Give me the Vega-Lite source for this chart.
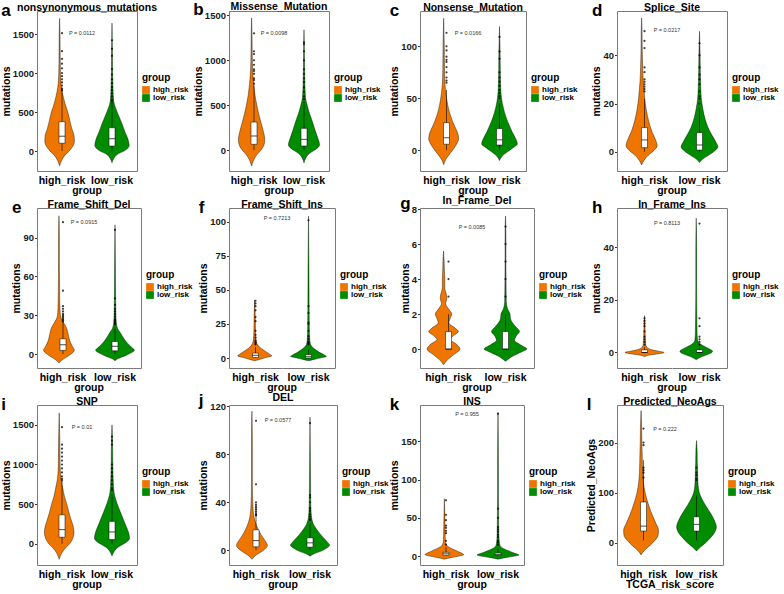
{
"$schema": "https://vega.github.io/schema/vega-lite/v6.json",
"background": "white",
"padding": {"left": 1, "top": 0, "right": 0, "bottom": 0},
"config": {
 "font": "Liberation Sans",
 "view": {"stroke": null},
 "axis": {"grid": false, "labelFontSize": 9.5, "labelFontWeight": "bold", "labelColor": "#1a1a1a", "titleFontSize": 10.5, "titleFontWeight": "bold", "titleColor": "black", "tickColor": "#333", "tickSize": 2.5, "domainColor": "#7a7a7a", "domainWidth": 1, "labelPadding": 1, "titlePadding": 1},
 "header": {"labelFontSize": 10.5, "labelFontWeight": "bold", "labelColor": "black", "titleFontSize": 10.5, "titleFontWeight": "bold", "titleColor": "black", "labelOrient": "bottom", "titleOrient": "bottom", "labelPadding": 5, "titlePadding": -11},
 "legend": {"titleFontSize": 10, "titleFontWeight": "bold", "titleColor": "black", "labelFontSize": 8, "labelFontWeight": "bold", "labelColor": "black", "symbolType": "square", "symbolSize": 60, "symbolStrokeWidth": 0, "rowPadding": 0, "titlePadding": 3, "labelOffset": 3},
 "title": {"color": "black", "fontWeight": "bold"}
},
"data": {"values": [
{"p":"a","g":"high_risk","k":"v","v":-190,"d":0},{"p":"a","g":"high_risk","k":"v","v":-120,"d":5},{"p":"a","g":"high_risk","k":"v","v":-50,"d":14},{"p":"a","g":"high_risk","k":"v","v":0,"d":24},{"p":"a","g":"high_risk","k":"v","v":60,"d":33},{"p":"a","g":"high_risk","k":"v","v":130,"d":37},{"p":"a","g":"high_risk","k":"v","v":200,"d":36},{"p":"a","g":"high_risk","k":"v","v":280,"d":31},{"p":"a","g":"high_risk","k":"v","v":380,"d":26},{"p":"a","g":"high_risk","k":"v","v":490,"d":21},{"p":"a","g":"high_risk","k":"v","v":600,"d":14},{"p":"a","g":"high_risk","k":"v","v":700,"d":9},{"p":"a","g":"high_risk","k":"v","v":800,"d":5},{"p":"a","g":"high_risk","k":"v","v":900,"d":3},{"p":"a","g":"high_risk","k":"v","v":1000,"d":2},{"p":"a","g":"high_risk","k":"v","v":1200,"d":1.5},{"p":"a","g":"high_risk","k":"v","v":1500,"d":1},{"p":"a","g":"high_risk","k":"v","v":1700,"d":0},
{"p":"a","g":"low_risk","k":"v","v":-150,"d":0},{"p":"a","g":"low_risk","k":"v","v":-100,"d":4},{"p":"a","g":"low_risk","k":"v","v":-40,"d":14},{"p":"a","g":"low_risk","k":"v","v":0,"d":30},{"p":"a","g":"low_risk","k":"v","v":70,"d":43},{"p":"a","g":"low_risk","k":"v","v":150,"d":40},{"p":"a","g":"low_risk","k":"v","v":250,"d":32},{"p":"a","g":"low_risk","k":"v","v":350,"d":25},{"p":"a","g":"low_risk","k":"v","v":450,"d":17},{"p":"a","g":"low_risk","k":"v","v":550,"d":9},{"p":"a","g":"low_risk","k":"v","v":650,"d":4},{"p":"a","g":"low_risk","k":"v","v":800,"d":2.5},{"p":"a","g":"low_risk","k":"v","v":1000,"d":1.5},{"p":"a","g":"low_risk","k":"v","v":1300,"d":1},{"p":"a","g":"low_risk","k":"v","v":1640,"d":0},
{"p":"b","g":"high_risk","k":"v","v":-175,"d":0},{"p":"b","g":"high_risk","k":"v","v":-110,"d":5},{"p":"b","g":"high_risk","k":"v","v":-50,"d":13},{"p":"b","g":"high_risk","k":"v","v":0,"d":23},{"p":"b","g":"high_risk","k":"v","v":60,"d":31},{"p":"b","g":"high_risk","k":"v","v":120,"d":33},{"p":"b","g":"high_risk","k":"v","v":200,"d":30},{"p":"b","g":"high_risk","k":"v","v":300,"d":24},{"p":"b","g":"high_risk","k":"v","v":400,"d":18},{"p":"b","g":"high_risk","k":"v","v":500,"d":13},{"p":"b","g":"high_risk","k":"v","v":600,"d":9},{"p":"b","g":"high_risk","k":"v","v":700,"d":6},{"p":"b","g":"high_risk","k":"v","v":800,"d":4},{"p":"b","g":"high_risk","k":"v","v":900,"d":2.5},{"p":"b","g":"high_risk","k":"v","v":1100,"d":1.5},{"p":"b","g":"high_risk","k":"v","v":1300,"d":1},{"p":"b","g":"high_risk","k":"v","v":1470,"d":0},
{"p":"b","g":"low_risk","k":"v","v":-140,"d":0},{"p":"b","g":"low_risk","k":"v","v":-90,"d":4},{"p":"b","g":"low_risk","k":"v","v":-30,"d":15},{"p":"b","g":"low_risk","k":"v","v":0,"d":26},{"p":"b","g":"low_risk","k":"v","v":60,"d":39},{"p":"b","g":"low_risk","k":"v","v":130,"d":35},{"p":"b","g":"low_risk","k":"v","v":220,"d":28},{"p":"b","g":"low_risk","k":"v","v":320,"d":21},{"p":"b","g":"low_risk","k":"v","v":420,"d":13},{"p":"b","g":"low_risk","k":"v","v":500,"d":8},{"p":"b","g":"low_risk","k":"v","v":580,"d":4},{"p":"b","g":"low_risk","k":"v","v":700,"d":2.5},{"p":"b","g":"low_risk","k":"v","v":900,"d":1.5},{"p":"b","g":"low_risk","k":"v","v":1100,"d":1},{"p":"b","g":"low_risk","k":"v","v":1340,"d":0},
{"p":"c","g":"high_risk","k":"v","v":-14,"d":0},{"p":"c","g":"high_risk","k":"v","v":-9,"d":5},{"p":"c","g":"high_risk","k":"v","v":-4,"d":14},{"p":"c","g":"high_risk","k":"v","v":0,"d":22},{"p":"c","g":"high_risk","k":"v","v":6,"d":32},{"p":"c","g":"high_risk","k":"v","v":11,"d":37},{"p":"c","g":"high_risk","k":"v","v":17,"d":34},{"p":"c","g":"high_risk","k":"v","v":24,"d":26},{"p":"c","g":"high_risk","k":"v","v":32,"d":18},{"p":"c","g":"high_risk","k":"v","v":40,"d":12},{"p":"c","g":"high_risk","k":"v","v":48,"d":8},{"p":"c","g":"high_risk","k":"v","v":56,"d":5},{"p":"c","g":"high_risk","k":"v","v":65,"d":3},{"p":"c","g":"high_risk","k":"v","v":80,"d":2},{"p":"c","g":"high_risk","k":"v","v":100,"d":1.5},{"p":"c","g":"high_risk","k":"v","v":127,"d":0},
{"p":"c","g":"low_risk","k":"v","v":-10,"d":0},{"p":"c","g":"low_risk","k":"v","v":-6,"d":6},{"p":"c","g":"low_risk","k":"v","v":-2,"d":18},{"p":"c","g":"low_risk","k":"v","v":2,"d":32},{"p":"c","g":"low_risk","k":"v","v":6,"d":44},{"p":"c","g":"low_risk","k":"v","v":11,"d":40},{"p":"c","g":"low_risk","k":"v","v":17,"d":32},{"p":"c","g":"low_risk","k":"v","v":24,"d":24},{"p":"c","g":"low_risk","k":"v","v":32,"d":16},{"p":"c","g":"low_risk","k":"v","v":40,"d":10},{"p":"c","g":"low_risk","k":"v","v":50,"d":5},{"p":"c","g":"low_risk","k":"v","v":60,"d":3},{"p":"c","g":"low_risk","k":"v","v":75,"d":2},{"p":"c","g":"low_risk","k":"v","v":95,"d":1.5},{"p":"c","g":"low_risk","k":"v","v":119,"d":0},
{"p":"d","g":"high_risk","k":"v","v":-5.5,"d":0},{"p":"d","g":"high_risk","k":"v","v":-3.5,"d":6},{"p":"d","g":"high_risk","k":"v","v":-1.5,"d":16},{"p":"d","g":"high_risk","k":"v","v":0.5,"d":30},{"p":"d","g":"high_risk","k":"v","v":2.5,"d":38},{"p":"d","g":"high_risk","k":"v","v":5,"d":34},{"p":"d","g":"high_risk","k":"v","v":8,"d":26},{"p":"d","g":"high_risk","k":"v","v":11,"d":20},{"p":"d","g":"high_risk","k":"v","v":15,"d":14},{"p":"d","g":"high_risk","k":"v","v":20,"d":9},{"p":"d","g":"high_risk","k":"v","v":25,"d":6},{"p":"d","g":"high_risk","k":"v","v":29,"d":4},{"p":"d","g":"high_risk","k":"v","v":35,"d":2.5},{"p":"d","g":"high_risk","k":"v","v":42,"d":1.5},{"p":"d","g":"high_risk","k":"v","v":50,"d":1},{"p":"d","g":"high_risk","k":"v","v":55.5,"d":0},
{"p":"d","g":"low_risk","k":"v","v":-4.5,"d":0},{"p":"d","g":"low_risk","k":"v","v":-3,"d":8},{"p":"d","g":"low_risk","k":"v","v":-1.5,"d":22},{"p":"d","g":"low_risk","k":"v","v":0.5,"d":38},{"p":"d","g":"low_risk","k":"v","v":2,"d":45},{"p":"d","g":"low_risk","k":"v","v":4,"d":40},{"p":"d","g":"low_risk","k":"v","v":7,"d":30},{"p":"d","g":"low_risk","k":"v","v":10,"d":21},{"p":"d","g":"low_risk","k":"v","v":14,"d":13},{"p":"d","g":"low_risk","k":"v","v":18,"d":8},{"p":"d","g":"low_risk","k":"v","v":22,"d":4.5},{"p":"d","g":"low_risk","k":"v","v":27,"d":3},{"p":"d","g":"low_risk","k":"v","v":33,"d":2},{"p":"d","g":"low_risk","k":"v","v":40,"d":1.5},{"p":"d","g":"low_risk","k":"v","v":50,"d":0},
{"p":"e","g":"high_risk","k":"v","v":-7,"d":0},{"p":"e","g":"high_risk","k":"v","v":-5,"d":6},{"p":"e","g":"high_risk","k":"v","v":-2.5,"d":18},{"p":"e","g":"high_risk","k":"v","v":0,"d":30},{"p":"e","g":"high_risk","k":"v","v":3,"d":38},{"p":"e","g":"high_risk","k":"v","v":6,"d":33},{"p":"e","g":"high_risk","k":"v","v":10,"d":27},{"p":"e","g":"high_risk","k":"v","v":15,"d":23},{"p":"e","g":"high_risk","k":"v","v":20,"d":19},{"p":"e","g":"high_risk","k":"v","v":24,"d":12},{"p":"e","g":"high_risk","k":"v","v":28,"d":5},{"p":"e","g":"high_risk","k":"v","v":32,"d":3},{"p":"e","g":"high_risk","k":"v","v":40,"d":2},{"p":"e","g":"high_risk","k":"v","v":50,"d":1.5},{"p":"e","g":"high_risk","k":"v","v":70,"d":1},{"p":"e","g":"high_risk","k":"v","v":90,"d":1},{"p":"e","g":"high_risk","k":"v","v":107,"d":0},
{"p":"e","g":"low_risk","k":"v","v":-5.2,"d":0},{"p":"e","g":"low_risk","k":"v","v":-3.5,"d":8},{"p":"e","g":"low_risk","k":"v","v":-1.5,"d":24},{"p":"e","g":"low_risk","k":"v","v":1,"d":40},{"p":"e","g":"low_risk","k":"v","v":3,"d":48},{"p":"e","g":"low_risk","k":"v","v":5,"d":42},{"p":"e","g":"low_risk","k":"v","v":8,"d":32},{"p":"e","g":"low_risk","k":"v","v":11,"d":24},{"p":"e","g":"low_risk","k":"v","v":14,"d":18},{"p":"e","g":"low_risk","k":"v","v":17,"d":12},{"p":"e","g":"low_risk","k":"v","v":20,"d":6},{"p":"e","g":"low_risk","k":"v","v":25,"d":3},{"p":"e","g":"low_risk","k":"v","v":32,"d":2},{"p":"e","g":"low_risk","k":"v","v":45,"d":1.5},{"p":"e","g":"low_risk","k":"v","v":70,"d":1},{"p":"e","g":"low_risk","k":"v","v":100,"d":0},
{"p":"f","g":"high_risk","k":"v","v":-2,"d":0},{"p":"f","g":"high_risk","k":"v","v":-1,"d":12},{"p":"f","g":"high_risk","k":"v","v":0.5,"d":30},{"p":"f","g":"high_risk","k":"v","v":1.5,"d":42},{"p":"f","g":"high_risk","k":"v","v":3,"d":36},{"p":"f","g":"high_risk","k":"v","v":5,"d":26},{"p":"f","g":"high_risk","k":"v","v":7,"d":16},{"p":"f","g":"high_risk","k":"v","v":9,"d":9},{"p":"f","g":"high_risk","k":"v","v":11,"d":5},{"p":"f","g":"high_risk","k":"v","v":14,"d":3},{"p":"f","g":"high_risk","k":"v","v":20,"d":2},{"p":"f","g":"high_risk","k":"v","v":30,"d":1.5},{"p":"f","g":"high_risk","k":"v","v":42.5,"d":0},
{"p":"f","g":"low_risk","k":"v","v":-2,"d":0},{"p":"f","g":"low_risk","k":"v","v":-1,"d":14},{"p":"f","g":"low_risk","k":"v","v":0.5,"d":36},{"p":"f","g":"low_risk","k":"v","v":1.2,"d":44},{"p":"f","g":"low_risk","k":"v","v":2.5,"d":38},{"p":"f","g":"low_risk","k":"v","v":4,"d":28},{"p":"f","g":"low_risk","k":"v","v":6,"d":18},{"p":"f","g":"low_risk","k":"v","v":8,"d":10},{"p":"f","g":"low_risk","k":"v","v":10,"d":5},{"p":"f","g":"low_risk","k":"v","v":14,"d":3},{"p":"f","g":"low_risk","k":"v","v":22,"d":2},{"p":"f","g":"low_risk","k":"v","v":40,"d":1.5},{"p":"f","g":"low_risk","k":"v","v":70,"d":1},{"p":"f","g":"low_risk","k":"v","v":104,"d":0},
{"p":"g","g":"high_risk","k":"v","v":-0.9,"d":0},{"p":"g","g":"high_risk","k":"v","v":-0.6,"d":10},{"p":"g","g":"high_risk","k":"v","v":-0.3,"d":26},{"p":"g","g":"high_risk","k":"v","v":0,"d":40},{"p":"g","g":"high_risk","k":"v","v":0.3,"d":30},{"p":"g","g":"high_risk","k":"v","v":0.55,"d":16},{"p":"g","g":"high_risk","k":"v","v":0.8,"d":26},{"p":"g","g":"high_risk","k":"v","v":1,"d":36},{"p":"g","g":"high_risk","k":"v","v":1.2,"d":28},{"p":"g","g":"high_risk","k":"v","v":1.5,"d":13},{"p":"g","g":"high_risk","k":"v","v":1.8,"d":17},{"p":"g","g":"high_risk","k":"v","v":2,"d":20},{"p":"g","g":"high_risk","k":"v","v":2.3,"d":12},{"p":"g","g":"high_risk","k":"v","v":2.6,"d":5},{"p":"g","g":"high_risk","k":"v","v":2.9,"d":8},{"p":"g","g":"high_risk","k":"v","v":3.1,"d":7},{"p":"g","g":"high_risk","k":"v","v":3.5,"d":3},{"p":"g","g":"high_risk","k":"v","v":4,"d":3},{"p":"g","g":"high_risk","k":"v","v":4.5,"d":2},{"p":"g","g":"high_risk","k":"v","v":5,"d":1.5},{"p":"g","g":"high_risk","k":"v","v":5.6,"d":0},
{"p":"g","g":"low_risk","k":"v","v":-0.7,"d":0},{"p":"g","g":"low_risk","k":"v","v":-0.4,"d":18},{"p":"g","g":"low_risk","k":"v","v":-0.15,"d":40},{"p":"g","g":"low_risk","k":"v","v":0,"d":52},{"p":"g","g":"low_risk","k":"v","v":0.25,"d":36},{"p":"g","g":"low_risk","k":"v","v":0.5,"d":22},{"p":"g","g":"low_risk","k":"v","v":0.75,"d":26},{"p":"g","g":"low_risk","k":"v","v":1,"d":34},{"p":"g","g":"low_risk","k":"v","v":1.25,"d":26},{"p":"g","g":"low_risk","k":"v","v":1.5,"d":17},{"p":"g","g":"low_risk","k":"v","v":1.75,"d":12},{"p":"g","g":"low_risk","k":"v","v":2,"d":11},{"p":"g","g":"low_risk","k":"v","v":2.3,"d":5},{"p":"g","g":"low_risk","k":"v","v":2.7,"d":2},{"p":"g","g":"low_risk","k":"v","v":3.5,"d":1.5},{"p":"g","g":"low_risk","k":"v","v":5,"d":1},{"p":"g","g":"low_risk","k":"v","v":6.5,"d":1},{"p":"g","g":"low_risk","k":"v","v":7.6,"d":0},
{"p":"h","g":"high_risk","k":"v","v":-1.6,"d":0},{"p":"h","g":"high_risk","k":"v","v":-1,"d":12},{"p":"h","g":"high_risk","k":"v","v":-0.5,"d":34},{"p":"h","g":"high_risk","k":"v","v":0,"d":48},{"p":"h","g":"high_risk","k":"v","v":0.5,"d":34},{"p":"h","g":"high_risk","k":"v","v":1,"d":18},{"p":"h","g":"high_risk","k":"v","v":1.5,"d":10},{"p":"h","g":"high_risk","k":"v","v":2,"d":6},{"p":"h","g":"high_risk","k":"v","v":3,"d":3},{"p":"h","g":"high_risk","k":"v","v":5,"d":2},{"p":"h","g":"high_risk","k":"v","v":8,"d":1.5},{"p":"h","g":"high_risk","k":"v","v":11,"d":1},{"p":"h","g":"high_risk","k":"v","v":14,"d":0},
{"p":"h","g":"low_risk","k":"v","v":-2.8,"d":0},{"p":"h","g":"low_risk","k":"v","v":-2,"d":8},{"p":"h","g":"low_risk","k":"v","v":-1,"d":24},{"p":"h","g":"low_risk","k":"v","v":0,"d":38},{"p":"h","g":"low_risk","k":"v","v":0.5,"d":40},{"p":"h","g":"low_risk","k":"v","v":1,"d":36},{"p":"h","g":"low_risk","k":"v","v":2,"d":24},{"p":"h","g":"low_risk","k":"v","v":3,"d":12},{"p":"h","g":"low_risk","k":"v","v":4,"d":5},{"p":"h","g":"low_risk","k":"v","v":5,"d":3},{"p":"h","g":"low_risk","k":"v","v":8,"d":2},{"p":"h","g":"low_risk","k":"v","v":14,"d":1.5},{"p":"h","g":"low_risk","k":"v","v":25,"d":1},{"p":"h","g":"low_risk","k":"v","v":40,"d":1},{"p":"h","g":"low_risk","k":"v","v":51,"d":0},
{"p":"i","g":"high_risk","k":"v","v":-195,"d":0},{"p":"i","g":"high_risk","k":"v","v":-120,"d":6},{"p":"i","g":"high_risk","k":"v","v":-50,"d":16},{"p":"i","g":"high_risk","k":"v","v":0,"d":26},{"p":"i","g":"high_risk","k":"v","v":70,"d":34},{"p":"i","g":"high_risk","k":"v","v":140,"d":37},{"p":"i","g":"high_risk","k":"v","v":220,"d":35},{"p":"i","g":"high_risk","k":"v","v":300,"d":30},{"p":"i","g":"high_risk","k":"v","v":400,"d":24},{"p":"i","g":"high_risk","k":"v","v":500,"d":19},{"p":"i","g":"high_risk","k":"v","v":600,"d":13},{"p":"i","g":"high_risk","k":"v","v":700,"d":9},{"p":"i","g":"high_risk","k":"v","v":800,"d":5},{"p":"i","g":"high_risk","k":"v","v":900,"d":3},{"p":"i","g":"high_risk","k":"v","v":1050,"d":2},{"p":"i","g":"high_risk","k":"v","v":1300,"d":1.5},{"p":"i","g":"high_risk","k":"v","v":1650,"d":0},
{"p":"i","g":"low_risk","k":"v","v":-155,"d":0},{"p":"i","g":"low_risk","k":"v","v":-100,"d":5},{"p":"i","g":"low_risk","k":"v","v":-40,"d":16},{"p":"i","g":"low_risk","k":"v","v":0,"d":30},{"p":"i","g":"low_risk","k":"v","v":70,"d":44},{"p":"i","g":"low_risk","k":"v","v":150,"d":41},{"p":"i","g":"low_risk","k":"v","v":250,"d":33},{"p":"i","g":"low_risk","k":"v","v":350,"d":25},{"p":"i","g":"low_risk","k":"v","v":450,"d":17},{"p":"i","g":"low_risk","k":"v","v":550,"d":10},{"p":"i","g":"low_risk","k":"v","v":650,"d":5},{"p":"i","g":"low_risk","k":"v","v":800,"d":3},{"p":"i","g":"low_risk","k":"v","v":1000,"d":2},{"p":"i","g":"low_risk","k":"v","v":1250,"d":1.5},{"p":"i","g":"low_risk","k":"v","v":1500,"d":0},
{"p":"j","g":"high_risk","k":"v","v":-7.7,"d":0},{"p":"j","g":"high_risk","k":"v","v":-5,"d":7},{"p":"j","g":"high_risk","k":"v","v":-2,"d":20},{"p":"j","g":"high_risk","k":"v","v":1,"d":32},{"p":"j","g":"high_risk","k":"v","v":4,"d":38},{"p":"j","g":"high_risk","k":"v","v":7,"d":34},{"p":"j","g":"high_risk","k":"v","v":11,"d":26},{"p":"j","g":"high_risk","k":"v","v":15,"d":19},{"p":"j","g":"high_risk","k":"v","v":20,"d":12},{"p":"j","g":"high_risk","k":"v","v":25,"d":7},{"p":"j","g":"high_risk","k":"v","v":30,"d":4},{"p":"j","g":"high_risk","k":"v","v":36,"d":2.5},{"p":"j","g":"high_risk","k":"v","v":45,"d":1.5},{"p":"j","g":"high_risk","k":"v","v":60,"d":1},{"p":"j","g":"high_risk","k":"v","v":90,"d":1},{"p":"j","g":"high_risk","k":"v","v":116,"d":0},
{"p":"j","g":"low_risk","k":"v","v":-5,"d":0},{"p":"j","g":"low_risk","k":"v","v":-3,"d":10},{"p":"j","g":"low_risk","k":"v","v":-1,"d":26},{"p":"j","g":"low_risk","k":"v","v":1.5,"d":40},{"p":"j","g":"low_risk","k":"v","v":4,"d":48},{"p":"j","g":"low_risk","k":"v","v":7,"d":42},{"p":"j","g":"low_risk","k":"v","v":10,"d":34},{"p":"j","g":"low_risk","k":"v","v":14,"d":24},{"p":"j","g":"low_risk","k":"v","v":18,"d":15},{"p":"j","g":"low_risk","k":"v","v":22,"d":8},{"p":"j","g":"low_risk","k":"v","v":27,"d":4},{"p":"j","g":"low_risk","k":"v","v":33,"d":2.5},{"p":"j","g":"low_risk","k":"v","v":45,"d":1.5},{"p":"j","g":"low_risk","k":"v","v":70,"d":1},{"p":"j","g":"low_risk","k":"v","v":111,"d":0},
{"p":"k","g":"high_risk","k":"v","v":-4,"d":0},{"p":"k","g":"high_risk","k":"v","v":-2,"d":16},{"p":"k","g":"high_risk","k":"v","v":0,"d":36},{"p":"k","g":"high_risk","k":"v","v":2,"d":48},{"p":"k","g":"high_risk","k":"v","v":5,"d":38},{"p":"k","g":"high_risk","k":"v","v":8,"d":26},{"p":"k","g":"high_risk","k":"v","v":11,"d":14},{"p":"k","g":"high_risk","k":"v","v":14,"d":6},{"p":"k","g":"high_risk","k":"v","v":18,"d":3},{"p":"k","g":"high_risk","k":"v","v":25,"d":2},{"p":"k","g":"high_risk","k":"v","v":40,"d":1.5},{"p":"k","g":"high_risk","k":"v","v":55,"d":1},{"p":"k","g":"high_risk","k":"v","v":75,"d":0},
{"p":"k","g":"low_risk","k":"v","v":-4,"d":0},{"p":"k","g":"low_risk","k":"v","v":-2,"d":18},{"p":"k","g":"low_risk","k":"v","v":0,"d":42},{"p":"k","g":"low_risk","k":"v","v":1.5,"d":52},{"p":"k","g":"low_risk","k":"v","v":4,"d":40},{"p":"k","g":"low_risk","k":"v","v":7,"d":26},{"p":"k","g":"low_risk","k":"v","v":10,"d":13},{"p":"k","g":"low_risk","k":"v","v":14,"d":5},{"p":"k","g":"low_risk","k":"v","v":20,"d":3},{"p":"k","g":"low_risk","k":"v","v":30,"d":2},{"p":"k","g":"low_risk","k":"v","v":50,"d":1.5},{"p":"k","g":"low_risk","k":"v","v":80,"d":1},{"p":"k","g":"low_risk","k":"v","v":120,"d":1},{"p":"k","g":"low_risk","k":"v","v":188,"d":0},
{"p":"l","g":"high_risk","k":"v","v":-24,"d":0},{"p":"l","g":"high_risk","k":"v","v":-15,"d":8},{"p":"l","g":"high_risk","k":"v","v":-5,"d":22},{"p":"l","g":"high_risk","k":"v","v":5,"d":34},{"p":"l","g":"high_risk","k":"v","v":15,"d":42},{"p":"l","g":"high_risk","k":"v","v":25,"d":43},{"p":"l","g":"high_risk","k":"v","v":40,"d":36},{"p":"l","g":"high_risk","k":"v","v":55,"d":28},{"p":"l","g":"high_risk","k":"v","v":70,"d":21},{"p":"l","g":"high_risk","k":"v","v":85,"d":15},{"p":"l","g":"high_risk","k":"v","v":100,"d":10},{"p":"l","g":"high_risk","k":"v","v":120,"d":6},{"p":"l","g":"high_risk","k":"v","v":140,"d":4},{"p":"l","g":"high_risk","k":"v","v":170,"d":3},{"p":"l","g":"high_risk","k":"v","v":200,"d":2},{"p":"l","g":"high_risk","k":"v","v":230,"d":1.5},{"p":"l","g":"high_risk","k":"v","v":264,"d":0},
{"p":"l","g":"low_risk","k":"v","v":-16,"d":0},{"p":"l","g":"low_risk","k":"v","v":-8,"d":10},{"p":"l","g":"low_risk","k":"v","v":0,"d":22},{"p":"l","g":"low_risk","k":"v","v":10,"d":34},{"p":"l","g":"low_risk","k":"v","v":20,"d":44},{"p":"l","g":"low_risk","k":"v","v":32,"d":49},{"p":"l","g":"low_risk","k":"v","v":45,"d":44},{"p":"l","g":"low_risk","k":"v","v":60,"d":34},{"p":"l","g":"low_risk","k":"v","v":75,"d":22},{"p":"l","g":"low_risk","k":"v","v":90,"d":12},{"p":"l","g":"low_risk","k":"v","v":100,"d":7},{"p":"l","g":"low_risk","k":"v","v":115,"d":4},{"p":"l","g":"low_risk","k":"v","v":135,"d":3},{"p":"l","g":"low_risk","k":"v","v":160,"d":2},{"p":"l","g":"low_risk","k":"v","v":185,"d":1.5},{"p":"l","g":"low_risk","k":"v","v":204,"d":0},
{"p":"a","g":"high_risk","k":"b","v":100,"v2":376},{"p":"a","g":"low_risk","k":"b","v":64,"v2":299},{"p":"a","g":"high_risk","k":"m","v":190},{"p":"a","g":"low_risk","k":"m","v":158},
{"p":"b","g":"high_risk","k":"b","v":67,"v2":314},{"p":"b","g":"low_risk","k":"b","v":48,"v2":244},{"p":"b","g":"high_risk","k":"m","v":159},{"p":"b","g":"low_risk","k":"m","v":122},
{"p":"c","g":"high_risk","k":"b","v":5.8,"v2":26.5},{"p":"c","g":"low_risk","k":"b","v":5,"v2":20.8},{"p":"c","g":"high_risk","k":"m","v":12},{"p":"c","g":"low_risk","k":"m","v":10},
{"p":"d","g":"high_risk","k":"b","v":1.7,"v2":10},{"p":"d","g":"low_risk","k":"b","v":0.7,"v2":7.9},{"p":"d","g":"high_risk","k":"m","v":4.9},{"p":"d","g":"low_risk","k":"m","v":2.8},
{"p":"e","g":"high_risk","k":"b","v":2.8,"v2":11.8},{"p":"e","g":"low_risk","k":"b","v":2.5,"v2":9.7},{"p":"e","g":"high_risk","k":"m","v":7.2},{"p":"e","g":"low_risk","k":"m","v":6},
{"p":"f","g":"high_risk","k":"b","v":0.4,"v2":3.6},{"p":"f","g":"low_risk","k":"b","v":0,"v2":2.4},{"p":"f","g":"high_risk","k":"m","v":2},{"p":"f","g":"low_risk","k":"m","v":1},
{"p":"g","g":"high_risk","k":"b","v":0,"v2":1},{"p":"g","g":"low_risk","k":"b","v":0,"v2":1},{"p":"g","g":"high_risk","k":"m","v":0},{"p":"g","g":"low_risk","k":"m","v":0},
{"p":"h","g":"high_risk","k":"b","v":0,"v2":1},{"p":"h","g":"low_risk","k":"b","v":0,"v2":1},{"p":"h","g":"high_risk","k":"m","v":0},{"p":"h","g":"low_risk","k":"m","v":0},
{"p":"i","g":"high_risk","k":"b","v":83,"v2":366},{"p":"i","g":"low_risk","k":"b","v":54,"v2":283},{"p":"i","g":"high_risk","k":"m","v":179},{"p":"i","g":"low_risk","k":"m","v":150},
{"p":"j","g":"high_risk","k":"b","v":2.8,"v2":17},{"p":"j","g":"low_risk","k":"b","v":2.5,"v2":10.3},{"p":"j","g":"high_risk","k":"m","v":8},{"p":"j","g":"low_risk","k":"m","v":6.1},
{"p":"k","g":"high_risk","k":"b","v":1,"v2":5},{"p":"k","g":"low_risk","k":"b","v":1,"v2":4},{"p":"k","g":"high_risk","k":"m","v":3},{"p":"k","g":"low_risk","k":"m","v":2},
{"p":"l","g":"high_risk","k":"b","v":23.7,"v2":81.6},{"p":"l","g":"low_risk","k":"b","v":23.7,"v2":52},{"p":"l","g":"high_risk","k":"m","v":33.5},{"p":"l","g":"low_risk","k":"m","v":37},
{"p":"a","g":"high_risk","k":"w","v":0,"v2":790},{"p":"a","g":"low_risk","k":"w","v":0,"v2":640},{"p":"b","g":"high_risk","k":"w","v":0,"v2":720},{"p":"b","g":"low_risk","k":"w","v":0,"v2":540},{"p":"c","g":"high_risk","k":"w","v":0,"v2":58},{"p":"c","g":"low_risk","k":"w","v":0,"v2":45},{"p":"d","g":"high_risk","k":"w","v":0,"v2":22},{"p":"d","g":"low_risk","k":"w","v":0,"v2":18},{"p":"e","g":"high_risk","k":"w","v":0,"v2":24},{"p":"e","g":"low_risk","k":"w","v":0,"v2":20},{"p":"f","g":"high_risk","k":"w","v":0,"v2":8},{"p":"f","g":"low_risk","k":"w","v":0,"v2":6},{"p":"g","g":"high_risk","k":"w","v":0,"v2":2},{"p":"g","g":"low_risk","k":"w","v":0,"v2":2},{"p":"h","g":"high_risk","k":"w","v":0,"v2":2},{"p":"h","g":"low_risk","k":"w","v":0,"v2":2},{"p":"i","g":"high_risk","k":"w","v":0,"v2":790},{"p":"i","g":"low_risk","k":"w","v":0,"v2":620},{"p":"j","g":"high_risk","k":"w","v":0,"v2":38},{"p":"j","g":"low_risk","k":"w","v":0,"v2":22},{"p":"k","g":"high_risk","k":"w","v":0,"v2":12},{"p":"k","g":"low_risk","k":"w","v":0,"v2":10},{"p":"l","g":"high_risk","k":"w","v":5,"v2":165},{"p":"l","g":"low_risk","k":"w","v":5,"v2":95},
{"p":"a","g":"high_risk","k":"p","v":1516,"t":"P = 0.0112"},{"p":"b","g":"high_risk","k":"p","v":1306,"t":"P = 0.0098"},{"p":"c","g":"high_risk","k":"p","v":113,"t":"P = 0.0166"},{"p":"d","g":"high_risk","k":"p","v":50.5,"t":"P = 0.0217"},{"p":"e","g":"high_risk","k":"p","v":102.5,"t":"P = 0.0915"},{"p":"f","g":"high_risk","k":"p","v":102.7,"t":"P = 0.7213"},{"p":"g","g":"high_risk","k":"p","v":7.0,"t":"P = 0.0085"},{"p":"h","g":"high_risk","k":"p","v":49.1,"t":"P = 0.8113"},{"p":"i","g":"high_risk","k":"p","v":1470,"t":"P = 0.01"},{"p":"j","g":"high_risk","k":"p","v":108.8,"t":"P = 0.0577"},{"p":"k","g":"high_risk","k":"p","v":185.9,"t":"P = 0.955"},{"p":"l","g":"high_risk","k":"p","v":227.6,"t":"P = 0.222"},
{"p":"a","g":"high_risk","k":"o","v":1510},{"p":"a","g":"high_risk","k":"o","v":1280},{"p":"a","g":"high_risk","k":"o","v":1180},{"p":"a","g":"high_risk","k":"o","v":1120},{"p":"a","g":"high_risk","k":"o","v":1060},{"p":"a","g":"high_risk","k":"o","v":1000},{"p":"a","g":"high_risk","k":"o","v":960},{"p":"a","g":"high_risk","k":"o","v":920},{"p":"a","g":"high_risk","k":"o","v":880},{"p":"a","g":"high_risk","k":"o","v":840},{"p":"a","g":"high_risk","k":"o","v":800},{"p":"a","g":"high_risk","k":"o","v":780},
{"p":"a","g":"low_risk","k":"o","v":1420},{"p":"a","g":"low_risk","k":"o","v":1310},{"p":"a","g":"low_risk","k":"o","v":1220},{"p":"a","g":"low_risk","k":"o","v":1050},{"p":"a","g":"low_risk","k":"o","v":980},{"p":"a","g":"low_risk","k":"o","v":920},{"p":"a","g":"low_risk","k":"o","v":870},{"p":"a","g":"low_risk","k":"o","v":820},{"p":"a","g":"low_risk","k":"o","v":780},{"p":"a","g":"low_risk","k":"o","v":740},{"p":"a","g":"low_risk","k":"o","v":700},{"p":"a","g":"low_risk","k":"o","v":660},{"p":"a","g":"low_risk","k":"o","v":640},
{"p":"b","g":"high_risk","k":"o","v":1300},{"p":"b","g":"high_risk","k":"o","v":1100},{"p":"b","g":"high_risk","k":"o","v":1070},{"p":"b","g":"high_risk","k":"o","v":1000},{"p":"b","g":"high_risk","k":"o","v":950},{"p":"b","g":"high_risk","k":"o","v":900},{"p":"b","g":"high_risk","k":"o","v":880},{"p":"b","g":"high_risk","k":"o","v":850},{"p":"b","g":"high_risk","k":"o","v":800},{"p":"b","g":"high_risk","k":"o","v":780},{"p":"b","g":"high_risk","k":"o","v":740},
{"p":"b","g":"low_risk","k":"o","v":1200},{"p":"b","g":"low_risk","k":"o","v":1180},{"p":"b","g":"low_risk","k":"o","v":1100},{"p":"b","g":"low_risk","k":"o","v":1000},{"p":"b","g":"low_risk","k":"o","v":900},{"p":"b","g":"low_risk","k":"o","v":850},{"p":"b","g":"low_risk","k":"o","v":800},{"p":"b","g":"low_risk","k":"o","v":760},{"p":"b","g":"low_risk","k":"o","v":700},{"p":"b","g":"low_risk","k":"o","v":650},{"p":"b","g":"low_risk","k":"o","v":600},{"p":"b","g":"low_risk","k":"o","v":570},
{"p":"c","g":"high_risk","k":"o","v":113},{"p":"c","g":"high_risk","k":"o","v":100},{"p":"c","g":"high_risk","k":"o","v":96},{"p":"c","g":"high_risk","k":"o","v":90},{"p":"c","g":"high_risk","k":"o","v":87},{"p":"c","g":"high_risk","k":"o","v":85},{"p":"c","g":"high_risk","k":"o","v":80},{"p":"c","g":"high_risk","k":"o","v":75},{"p":"c","g":"high_risk","k":"o","v":70},{"p":"c","g":"high_risk","k":"o","v":67},{"p":"c","g":"high_risk","k":"o","v":65},
{"p":"c","g":"low_risk","k":"o","v":109},{"p":"c","g":"low_risk","k":"o","v":95},{"p":"c","g":"low_risk","k":"o","v":88},{"p":"c","g":"low_risk","k":"o","v":75},{"p":"c","g":"low_risk","k":"o","v":70},{"p":"c","g":"low_risk","k":"o","v":66},{"p":"c","g":"low_risk","k":"o","v":62},{"p":"c","g":"low_risk","k":"o","v":58},{"p":"c","g":"low_risk","k":"o","v":55},{"p":"c","g":"low_risk","k":"o","v":52},{"p":"c","g":"low_risk","k":"o","v":50},
{"p":"d","g":"high_risk","k":"o","v":50},{"p":"d","g":"high_risk","k":"o","v":46},{"p":"d","g":"high_risk","k":"o","v":43},{"p":"d","g":"high_risk","k":"o","v":35},{"p":"d","g":"high_risk","k":"o","v":33},{"p":"d","g":"high_risk","k":"o","v":30},{"p":"d","g":"high_risk","k":"o","v":29},{"p":"d","g":"high_risk","k":"o","v":28},{"p":"d","g":"high_risk","k":"o","v":27},{"p":"d","g":"high_risk","k":"o","v":26},{"p":"d","g":"high_risk","k":"o","v":25},
{"p":"d","g":"low_risk","k":"o","v":45},{"p":"d","g":"low_risk","k":"o","v":40},{"p":"d","g":"low_risk","k":"o","v":35},{"p":"d","g":"low_risk","k":"o","v":32},{"p":"d","g":"low_risk","k":"o","v":30},{"p":"d","g":"low_risk","k":"o","v":28},{"p":"d","g":"low_risk","k":"o","v":25},{"p":"d","g":"low_risk","k":"o","v":23},{"p":"d","g":"low_risk","k":"o","v":22},{"p":"d","g":"low_risk","k":"o","v":20},
{"p":"e","g":"high_risk","k":"o","v":102},{"p":"e","g":"high_risk","k":"o","v":49},{"p":"e","g":"high_risk","k":"o","v":37},{"p":"e","g":"high_risk","k":"o","v":35},{"p":"e","g":"high_risk","k":"o","v":33},{"p":"e","g":"high_risk","k":"o","v":31},{"p":"e","g":"high_risk","k":"o","v":30},{"p":"e","g":"high_risk","k":"o","v":29},{"p":"e","g":"high_risk","k":"o","v":28},{"p":"e","g":"high_risk","k":"o","v":27},{"p":"e","g":"high_risk","k":"o","v":26},{"p":"e","g":"high_risk","k":"o","v":25},
{"p":"e","g":"low_risk","k":"o","v":96},{"p":"e","g":"low_risk","k":"o","v":43},{"p":"e","g":"low_risk","k":"o","v":38},{"p":"e","g":"low_risk","k":"o","v":35},{"p":"e","g":"low_risk","k":"o","v":33},{"p":"e","g":"low_risk","k":"o","v":31},{"p":"e","g":"low_risk","k":"o","v":29},{"p":"e","g":"low_risk","k":"o","v":27},{"p":"e","g":"low_risk","k":"o","v":26},{"p":"e","g":"low_risk","k":"o","v":25},{"p":"e","g":"low_risk","k":"o","v":24},{"p":"e","g":"low_risk","k":"o","v":23},
{"p":"f","g":"high_risk","k":"o","v":42},{"p":"f","g":"high_risk","k":"o","v":40},{"p":"f","g":"high_risk","k":"o","v":38},{"p":"f","g":"high_risk","k":"o","v":35},{"p":"f","g":"high_risk","k":"o","v":30},{"p":"f","g":"high_risk","k":"o","v":27},{"p":"f","g":"high_risk","k":"o","v":20},{"p":"f","g":"high_risk","k":"o","v":17},{"p":"f","g":"high_risk","k":"o","v":15},{"p":"f","g":"high_risk","k":"o","v":13},{"p":"f","g":"high_risk","k":"o","v":12},{"p":"f","g":"high_risk","k":"o","v":11},{"p":"f","g":"high_risk","k":"o","v":10},
{"p":"f","g":"low_risk","k":"o","v":101},{"p":"f","g":"low_risk","k":"o","v":38},{"p":"f","g":"low_risk","k":"o","v":33},{"p":"f","g":"low_risk","k":"o","v":26},{"p":"f","g":"low_risk","k":"o","v":25},{"p":"f","g":"low_risk","k":"o","v":20},{"p":"f","g":"low_risk","k":"o","v":16},{"p":"f","g":"low_risk","k":"o","v":14},{"p":"f","g":"low_risk","k":"o","v":12},{"p":"f","g":"low_risk","k":"o","v":11},{"p":"f","g":"low_risk","k":"o","v":10},
{"p":"g","g":"high_risk","k":"o","v":5},{"p":"g","g":"high_risk","k":"o","v":4},{"p":"g","g":"high_risk","k":"o","v":3},
{"p":"g","g":"low_risk","k":"o","v":7},{"p":"g","g":"low_risk","k":"o","v":6},{"p":"g","g":"low_risk","k":"o","v":5},{"p":"g","g":"low_risk","k":"o","v":4},{"p":"g","g":"low_risk","k":"o","v":3},
{"p":"h","g":"high_risk","k":"o","v":13},{"p":"h","g":"high_risk","k":"o","v":12},{"p":"h","g":"high_risk","k":"o","v":11},{"p":"h","g":"high_risk","k":"o","v":10},{"p":"h","g":"high_risk","k":"o","v":8},{"p":"h","g":"high_risk","k":"o","v":6},{"p":"h","g":"high_risk","k":"o","v":5},{"p":"h","g":"high_risk","k":"o","v":4},{"p":"h","g":"high_risk","k":"o","v":3},
{"p":"h","g":"low_risk","k":"o","v":49},{"p":"h","g":"low_risk","k":"o","v":13},{"p":"h","g":"low_risk","k":"o","v":10},{"p":"h","g":"low_risk","k":"o","v":6},{"p":"h","g":"low_risk","k":"o","v":5},{"p":"h","g":"low_risk","k":"o","v":4},{"p":"h","g":"low_risk","k":"o","v":3},
{"p":"i","g":"high_risk","k":"o","v":1470},{"p":"i","g":"high_risk","k":"o","v":1250},{"p":"i","g":"high_risk","k":"o","v":1200},{"p":"i","g":"high_risk","k":"o","v":1150},{"p":"i","g":"high_risk","k":"o","v":1100},{"p":"i","g":"high_risk","k":"o","v":1050},{"p":"i","g":"high_risk","k":"o","v":1000},{"p":"i","g":"high_risk","k":"o","v":950},{"p":"i","g":"high_risk","k":"o","v":900},{"p":"i","g":"high_risk","k":"o","v":850},{"p":"i","g":"high_risk","k":"o","v":820},{"p":"i","g":"high_risk","k":"o","v":800},
{"p":"i","g":"low_risk","k":"o","v":1350},{"p":"i","g":"low_risk","k":"o","v":1300},{"p":"i","g":"low_risk","k":"o","v":1250},{"p":"i","g":"low_risk","k":"o","v":1000},{"p":"i","g":"low_risk","k":"o","v":950},{"p":"i","g":"low_risk","k":"o","v":900},{"p":"i","g":"low_risk","k":"o","v":850},{"p":"i","g":"low_risk","k":"o","v":800},{"p":"i","g":"low_risk","k":"o","v":750},{"p":"i","g":"low_risk","k":"o","v":700},{"p":"i","g":"low_risk","k":"o","v":680},
{"p":"j","g":"high_risk","k":"o","v":108},{"p":"j","g":"high_risk","k":"o","v":55},{"p":"j","g":"high_risk","k":"o","v":40},{"p":"j","g":"high_risk","k":"o","v":38},{"p":"j","g":"high_risk","k":"o","v":36},{"p":"j","g":"high_risk","k":"o","v":34},{"p":"j","g":"high_risk","k":"o","v":32},{"p":"j","g":"high_risk","k":"o","v":30},{"p":"j","g":"high_risk","k":"o","v":29},
{"p":"j","g":"low_risk","k":"o","v":106},{"p":"j","g":"low_risk","k":"o","v":46},{"p":"j","g":"low_risk","k":"o","v":44},{"p":"j","g":"low_risk","k":"o","v":40},{"p":"j","g":"low_risk","k":"o","v":35},{"p":"j","g":"low_risk","k":"o","v":33},{"p":"j","g":"low_risk","k":"o","v":30},{"p":"j","g":"low_risk","k":"o","v":28},{"p":"j","g":"low_risk","k":"o","v":26},{"p":"j","g":"low_risk","k":"o","v":25},
{"p":"k","g":"high_risk","k":"o","v":73},{"p":"k","g":"high_risk","k":"o","v":54},{"p":"k","g":"high_risk","k":"o","v":47},{"p":"k","g":"high_risk","k":"o","v":40},{"p":"k","g":"high_risk","k":"o","v":37},{"p":"k","g":"high_risk","k":"o","v":33},{"p":"k","g":"high_risk","k":"o","v":30},{"p":"k","g":"high_risk","k":"o","v":20},{"p":"k","g":"high_risk","k":"o","v":15},
{"p":"k","g":"low_risk","k":"o","v":186},{"p":"k","g":"low_risk","k":"o","v":62},{"p":"k","g":"low_risk","k":"o","v":50},{"p":"k","g":"low_risk","k":"o","v":38},{"p":"k","g":"low_risk","k":"o","v":35},{"p":"k","g":"low_risk","k":"o","v":32},{"p":"k","g":"low_risk","k":"o","v":28},{"p":"k","g":"low_risk","k":"o","v":25},{"p":"k","g":"low_risk","k":"o","v":20},{"p":"k","g":"low_risk","k":"o","v":18},{"p":"k","g":"low_risk","k":"o","v":15},
{"p":"l","g":"high_risk","k":"o","v":228},{"p":"l","g":"high_risk","k":"o","v":200},{"p":"l","g":"high_risk","k":"o","v":195},{"p":"l","g":"high_risk","k":"o","v":150},{"p":"l","g":"high_risk","k":"o","v":145},{"p":"l","g":"high_risk","k":"o","v":140},{"p":"l","g":"high_risk","k":"o","v":130},
{"p":"l","g":"low_risk","k":"o","v":150},{"p":"l","g":"low_risk","k":"o","v":140},{"p":"l","g":"low_risk","k":"o","v":135},{"p":"l","g":"low_risk","k":"o","v":128},{"p":"l","g":"low_risk","k":"o","v":125}
]},
"columns": 4,
"spacing": {"row": -3, "column": 0},
"resolve": {"scale": {"color": "independent", "y": "independent", "x": "independent"}, "legend": {"color": "independent"}},
"concat": [
{"title": {"text": "a", "anchor": "start", "fontSize": 17, "offset": -17},
 "vconcat": [{"title": {"text": "nonsynonymous_mutations", "fontSize": 10.5, "offset": -2, "frame": "group", "anchor": "start", "align": "center", "dx": 50},
  "transform": [{"filter": "datum.p == 'a'"}],
  "facet": {"column": {"field": "g", "type": "nominal", "title": "group"}}, "spacing": 0, "bounds": "flush",
  "spec": {"width": 50, "height": 160,
   "layer": [
    {"transform": [{"filter": "datum.k == 'v'"}], "mark": {"type": "area", "orient": "horizontal", "interpolate": "monotone", "stroke": "black", "strokeWidth": 0.4},
     "encoding": {"y": {"field": "v", "type": "quantitative", "title": "mutations", "scale": {"domain": [-256, 1795], "nice": false, "zero": false}, "axis": {"values": [0, 500, 1000, 1500], "format": "d"}},
      "x": {"field": "d", "type": "quantitative", "stack": "center", "impute": null, "scale": {"domain": [-3.5, 46.5]}, "axis": {"labels": false, "ticks": false, "title": null}},
      "color": {"field": "g", "type": "nominal", "scale": {"domain": ["high_risk", "low_risk"], "range": ["#EE7600", "#008B00"]}, "legend": {"title": "group", "orient": "none", "legendX": 105, "legendY": 62}}}},
    {"transform": [{"filter": "datum.k == 'w'"}], "mark": {"type": "rule", "color": "black", "strokeWidth": 0.6},
     "encoding": {"y": {"field": "v", "type": "quantitative", "scale": {"domain": [-256, 1795], "nice": false, "zero": false}, "axis": null}, "y2": {"field": "v2"}, "x": {"datum": 21.5, "scale": {"domain": [-3.5, 46.5]}, "axis": null}}},
    {"transform": [{"filter": "datum.k == 'o'"}], "mark": {"type": "circle", "size": 5, "color": "black", "opacity": 0.75},
     "encoding": {"y": {"field": "v", "type": "quantitative", "scale": {"domain": [-256, 1795], "nice": false, "zero": false}, "axis": {"orient": "right", "labels": false, "ticks": false, "title": null, "minExtent": 0, "maxExtent": 0}},
      "x": {"datum": 21.5, "scale": {"domain": [-3.5, 46.5]}, "axis": {"orient": "top", "labels": false, "ticks": false, "title": null}}}},
    {"transform": [{"filter": "datum.k == 'b'"}], "mark": {"type": "bar", "width": 6, "fill": "white", "stroke": "black", "strokeWidth": 0.5},
     "encoding": {"y": {"field": "v", "type": "quantitative", "scale": {"domain": [-256, 1795], "nice": false, "zero": false}, "axis": null}, "y2": {"field": "v2"}, "x": {"datum": 21.5, "scale": {"domain": [-3.5, 46.5]}, "axis": null}}},
    {"transform": [{"filter": "datum.k == 'm'"}], "mark": {"type": "tick", "orient": "horizontal", "size": 6, "thickness": 1, "color": "black"},
     "encoding": {"y": {"field": "v", "type": "quantitative", "scale": {"domain": [-256, 1795], "nice": false, "zero": false}, "axis": null}, "x": {"datum": 21.5, "scale": {"domain": [-3.5, 46.5]}, "axis": null}}},
    {"transform": [{"filter": "datum.k == 'p'"}], "mark": {"type": "text", "fontSize": 5.5, "color": "#333"},
     "encoding": {"y": {"field": "v", "type": "quantitative", "scale": {"domain": [-256, 1795], "nice": false, "zero": false}, "axis": null}, "x": {"datum": 46.5, "scale": {"domain": [-3.5, 46.5]}, "axis": null}, "text": {"field": "t"}}}
   ],
   "resolve": {"axis": {"x": "independent", "y": "independent"}}}}]},
{"title": {"text": "b", "anchor": "start", "fontSize": 17, "offset": -17},
 "vconcat": [{"title": {"text": "Missense_Mutation", "fontSize": 10.5, "offset": -2, "frame": "group", "anchor": "start", "align": "center", "dx": 50},
  "transform": [{"filter": "datum.p == 'b'"}],
  "facet": {"column": {"field": "g", "type": "nominal", "title": "group"}}, "spacing": 0, "bounds": "flush",
  "spec": {"width": 50, "height": 160,
   "layer": [
    {"transform": [{"filter": "datum.k == 'v'"}], "mark": {"type": "area", "orient": "horizontal", "interpolate": "monotone", "stroke": "black", "strokeWidth": 0.4},
     "encoding": {"y": {"field": "v", "type": "quantitative", "title": "mutations", "scale": {"domain": [-230, 1548], "nice": false, "zero": false}, "axis": {"values": [0, 500, 1000, 1500], "format": "d"}},
      "x": {"field": "d", "type": "quantitative", "stack": "center", "impute": null, "scale": {"domain": [-5.5, 44.5]}, "axis": {"labels": false, "ticks": false, "title": null}},
      "color": {"field": "g", "type": "nominal", "scale": {"domain": ["high_risk", "low_risk"], "range": ["#EE7600", "#008B00"]}, "legend": {"title": "group", "orient": "none", "legendX": 105, "legendY": 62}}}},
    {"transform": [{"filter": "datum.k == 'w'"}], "mark": {"type": "rule", "color": "black", "strokeWidth": 0.6},
     "encoding": {"y": {"field": "v", "type": "quantitative", "scale": {"domain": [-230, 1548], "nice": false, "zero": false}, "axis": null}, "y2": {"field": "v2"}, "x": {"datum": 19.5, "scale": {"domain": [-5.5, 44.5]}, "axis": null}}},
    {"transform": [{"filter": "datum.k == 'o'"}], "mark": {"type": "circle", "size": 5, "color": "black", "opacity": 0.75},
     "encoding": {"y": {"field": "v", "type": "quantitative", "scale": {"domain": [-230, 1548], "nice": false, "zero": false}, "axis": {"orient": "right", "labels": false, "ticks": false, "title": null, "minExtent": 0, "maxExtent": 0}},
      "x": {"datum": 19.5, "scale": {"domain": [-5.5, 44.5]}, "axis": {"orient": "top", "labels": false, "ticks": false, "title": null}}}},
    {"transform": [{"filter": "datum.k == 'b'"}], "mark": {"type": "bar", "width": 6, "fill": "white", "stroke": "black", "strokeWidth": 0.5},
     "encoding": {"y": {"field": "v", "type": "quantitative", "scale": {"domain": [-230, 1548], "nice": false, "zero": false}, "axis": null}, "y2": {"field": "v2"}, "x": {"datum": 19.5, "scale": {"domain": [-5.5, 44.5]}, "axis": null}}},
    {"transform": [{"filter": "datum.k == 'm'"}], "mark": {"type": "tick", "orient": "horizontal", "size": 6, "thickness": 1, "color": "black"},
     "encoding": {"y": {"field": "v", "type": "quantitative", "scale": {"domain": [-230, 1548], "nice": false, "zero": false}, "axis": null}, "x": {"datum": 19.5, "scale": {"domain": [-5.5, 44.5]}, "axis": null}}},
    {"transform": [{"filter": "datum.k == 'p'"}], "mark": {"type": "text", "fontSize": 5.5, "color": "#333"},
     "encoding": {"y": {"field": "v", "type": "quantitative", "scale": {"domain": [-230, 1548], "nice": false, "zero": false}, "axis": null}, "x": {"datum": 44.5, "scale": {"domain": [-5.5, 44.5]}, "axis": null}, "text": {"field": "t"}}}
   ],
   "resolve": {"axis": {"x": "independent", "y": "independent"}}}}]},
{"title": {"text": "c", "anchor": "start", "fontSize": 17, "offset": -17},
 "vconcat": [{"title": {"text": "Nonsense_Mutation", "fontSize": 10.5, "offset": -2, "frame": "group", "anchor": "start", "align": "center", "dx": 53},
  "transform": [{"filter": "datum.p == 'c'"}],
  "facet": {"column": {"field": "g", "type": "nominal", "title": "group"}}, "spacing": 0, "bounds": "flush",
  "spec": {"width": 53, "height": 160,
   "layer": [
    {"transform": [{"filter": "datum.k == 'v'"}], "mark": {"type": "area", "orient": "horizontal", "interpolate": "monotone", "stroke": "black", "strokeWidth": 0.4},
     "encoding": {"y": {"field": "v", "type": "quantitative", "title": "mutations", "scale": {"domain": [-20, 134], "nice": false, "zero": false}, "axis": {"values": [0, 50, 100], "format": "d"}},
      "x": {"field": "d", "type": "quantitative", "stack": "center", "impute": null, "scale": {"domain": [-4.5, 48.5]}, "axis": {"labels": false, "ticks": false, "title": null}},
      "color": {"field": "g", "type": "nominal", "scale": {"domain": ["high_risk", "low_risk"], "range": ["#EE7600", "#008B00"]}, "legend": {"title": "group", "orient": "none", "legendX": 111, "legendY": 62}}}},
    {"transform": [{"filter": "datum.k == 'w'"}], "mark": {"type": "rule", "color": "black", "strokeWidth": 0.6},
     "encoding": {"y": {"field": "v", "type": "quantitative", "scale": {"domain": [-20, 134], "nice": false, "zero": false}, "axis": null}, "y2": {"field": "v2"}, "x": {"datum": 22, "scale": {"domain": [-4.5, 48.5]}, "axis": null}}},
    {"transform": [{"filter": "datum.k == 'o'"}], "mark": {"type": "circle", "size": 5, "color": "black", "opacity": 0.75},
     "encoding": {"y": {"field": "v", "type": "quantitative", "scale": {"domain": [-20, 134], "nice": false, "zero": false}, "axis": {"orient": "right", "labels": false, "ticks": false, "title": null, "minExtent": 0, "maxExtent": 0}},
      "x": {"datum": 22, "scale": {"domain": [-4.5, 48.5]}, "axis": {"orient": "top", "labels": false, "ticks": false, "title": null}}}},
    {"transform": [{"filter": "datum.k == 'b'"}], "mark": {"type": "bar", "width": 6, "fill": "white", "stroke": "black", "strokeWidth": 0.5},
     "encoding": {"y": {"field": "v", "type": "quantitative", "scale": {"domain": [-20, 134], "nice": false, "zero": false}, "axis": null}, "y2": {"field": "v2"}, "x": {"datum": 22, "scale": {"domain": [-4.5, 48.5]}, "axis": null}}},
    {"transform": [{"filter": "datum.k == 'm'"}], "mark": {"type": "tick", "orient": "horizontal", "size": 6, "thickness": 1, "color": "black"},
     "encoding": {"y": {"field": "v", "type": "quantitative", "scale": {"domain": [-20, 134], "nice": false, "zero": false}, "axis": null}, "x": {"datum": 22, "scale": {"domain": [-4.5, 48.5]}, "axis": null}}},
    {"transform": [{"filter": "datum.k == 'p'"}], "mark": {"type": "text", "fontSize": 5.5, "color": "#333"},
     "encoding": {"y": {"field": "v", "type": "quantitative", "scale": {"domain": [-20, 134], "nice": false, "zero": false}, "axis": null}, "x": {"datum": 48.5, "scale": {"domain": [-4.5, 48.5]}, "axis": null}, "text": {"field": "t"}}}
   ],
   "resolve": {"axis": {"x": "independent", "y": "independent"}}}}]},
{"title": {"text": "d", "anchor": "start", "fontSize": 17, "offset": -17},
 "vconcat": [{"title": {"text": "Splice_Site", "fontSize": 10.5, "offset": -2, "frame": "group", "anchor": "start", "align": "center", "dx": 55},
  "transform": [{"filter": "datum.p == 'd'"}],
  "facet": {"column": {"field": "g", "type": "nominal", "title": "group"}}, "spacing": 0, "bounds": "flush",
  "spec": {"width": 55, "height": 160,
   "layer": [
    {"transform": [{"filter": "datum.k == 'v'"}], "mark": {"type": "area", "orient": "horizontal", "interpolate": "monotone", "stroke": "black", "strokeWidth": 0.4},
     "encoding": {"y": {"field": "v", "type": "quantitative", "title": "mutations", "scale": {"domain": [-8, 58.4], "nice": false, "zero": false}, "axis": {"values": [0, 20, 40], "format": "d"}},
      "x": {"field": "d", "type": "quantitative", "stack": "center", "impute": null, "scale": {"domain": [-5, 50]}, "axis": {"labels": false, "ticks": false, "title": null}},
      "color": {"field": "g", "type": "nominal", "scale": {"domain": ["high_risk", "low_risk"], "range": ["#EE7600", "#008B00"]}, "legend": {"title": "group", "orient": "none", "legendX": 115, "legendY": 62}}}},
    {"transform": [{"filter": "datum.k == 'w'"}], "mark": {"type": "rule", "color": "black", "strokeWidth": 0.6},
     "encoding": {"y": {"field": "v", "type": "quantitative", "scale": {"domain": [-8, 58.4], "nice": false, "zero": false}, "axis": null}, "y2": {"field": "v2"}, "x": {"datum": 22.5, "scale": {"domain": [-5, 50]}, "axis": null}}},
    {"transform": [{"filter": "datum.k == 'o'"}], "mark": {"type": "circle", "size": 5, "color": "black", "opacity": 0.75},
     "encoding": {"y": {"field": "v", "type": "quantitative", "scale": {"domain": [-8, 58.4], "nice": false, "zero": false}, "axis": {"orient": "right", "labels": false, "ticks": false, "title": null, "minExtent": 0, "maxExtent": 0}},
      "x": {"datum": 22.5, "scale": {"domain": [-5, 50]}, "axis": {"orient": "top", "labels": false, "ticks": false, "title": null}}}},
    {"transform": [{"filter": "datum.k == 'b'"}], "mark": {"type": "bar", "width": 6, "fill": "white", "stroke": "black", "strokeWidth": 0.5},
     "encoding": {"y": {"field": "v", "type": "quantitative", "scale": {"domain": [-8, 58.4], "nice": false, "zero": false}, "axis": null}, "y2": {"field": "v2"}, "x": {"datum": 22.5, "scale": {"domain": [-5, 50]}, "axis": null}}},
    {"transform": [{"filter": "datum.k == 'm'"}], "mark": {"type": "tick", "orient": "horizontal", "size": 6, "thickness": 1, "color": "black"},
     "encoding": {"y": {"field": "v", "type": "quantitative", "scale": {"domain": [-8, 58.4], "nice": false, "zero": false}, "axis": null}, "x": {"datum": 22.5, "scale": {"domain": [-5, 50]}, "axis": null}}},
    {"transform": [{"filter": "datum.k == 'p'"}], "mark": {"type": "text", "fontSize": 5.5, "color": "#333"},
     "encoding": {"y": {"field": "v", "type": "quantitative", "scale": {"domain": [-8, 58.4], "nice": false, "zero": false}, "axis": null}, "x": {"datum": 50, "scale": {"domain": [-5, 50]}, "axis": null}, "text": {"field": "t"}}}
   ],
   "resolve": {"axis": {"x": "independent", "y": "independent"}}}}]},
{"title": {"text": "e", "anchor": "start", "fontSize": 17, "offset": -17},
 "vconcat": [{"title": {"text": "Frame_Shift_Del", "fontSize": 10.5, "offset": -2, "frame": "group", "anchor": "start", "align": "center", "dx": 52},
  "transform": [{"filter": "datum.p == 'e'"}],
  "facet": {"column": {"field": "g", "type": "nominal", "title": "group"}}, "spacing": 0, "bounds": "flush",
  "spec": {"width": 52, "height": 160,
   "layer": [
    {"transform": [{"filter": "datum.k == 'v'"}], "mark": {"type": "area", "orient": "horizontal", "interpolate": "monotone", "stroke": "black", "strokeWidth": 0.4},
     "encoding": {"y": {"field": "v", "type": "quantitative", "title": "mutations", "scale": {"domain": [-10.8, 113], "nice": false, "zero": false}, "axis": {"values": [0, 30, 60, 90], "format": "d"}},
      "x": {"field": "d", "type": "quantitative", "stack": "center", "impute": null, "scale": {"domain": [-2, 50]}, "axis": {"labels": false, "ticks": false, "title": null}},
      "color": {"field": "g", "type": "nominal", "scale": {"domain": ["high_risk", "low_risk"], "range": ["#EE7600", "#008B00"]}, "legend": {"title": "group", "orient": "none", "legendX": 109, "legendY": 62}}}},
    {"transform": [{"filter": "datum.k == 'w'"}], "mark": {"type": "rule", "color": "black", "strokeWidth": 0.6},
     "encoding": {"y": {"field": "v", "type": "quantitative", "scale": {"domain": [-10.8, 113], "nice": false, "zero": false}, "axis": null}, "y2": {"field": "v2"}, "x": {"datum": 24, "scale": {"domain": [-2, 50]}, "axis": null}}},
    {"transform": [{"filter": "datum.k == 'o'"}], "mark": {"type": "circle", "size": 5, "color": "black", "opacity": 0.75},
     "encoding": {"y": {"field": "v", "type": "quantitative", "scale": {"domain": [-10.8, 113], "nice": false, "zero": false}, "axis": {"orient": "right", "labels": false, "ticks": false, "title": null, "minExtent": 0, "maxExtent": 0}},
      "x": {"datum": 24, "scale": {"domain": [-2, 50]}, "axis": {"orient": "top", "labels": false, "ticks": false, "title": null}}}},
    {"transform": [{"filter": "datum.k == 'b'"}], "mark": {"type": "bar", "width": 6, "fill": "white", "stroke": "black", "strokeWidth": 0.5},
     "encoding": {"y": {"field": "v", "type": "quantitative", "scale": {"domain": [-10.8, 113], "nice": false, "zero": false}, "axis": null}, "y2": {"field": "v2"}, "x": {"datum": 24, "scale": {"domain": [-2, 50]}, "axis": null}}},
    {"transform": [{"filter": "datum.k == 'm'"}], "mark": {"type": "tick", "orient": "horizontal", "size": 6, "thickness": 1, "color": "black"},
     "encoding": {"y": {"field": "v", "type": "quantitative", "scale": {"domain": [-10.8, 113], "nice": false, "zero": false}, "axis": null}, "x": {"datum": 24, "scale": {"domain": [-2, 50]}, "axis": null}}},
    {"transform": [{"filter": "datum.k == 'p'"}], "mark": {"type": "text", "fontSize": 5.5, "color": "#333"},
     "encoding": {"y": {"field": "v", "type": "quantitative", "scale": {"domain": [-10.8, 113], "nice": false, "zero": false}, "axis": null}, "x": {"datum": 50, "scale": {"domain": [-2, 50]}, "axis": null}, "text": {"field": "t"}}}
   ],
   "resolve": {"axis": {"x": "independent", "y": "independent"}}}}]},
{"title": {"text": "f", "anchor": "start", "fontSize": 17, "offset": -17},
 "vconcat": [{"title": {"text": "Frame_Shift_Ins", "fontSize": 10.5, "offset": -2, "frame": "group", "anchor": "start", "align": "center", "dx": 53},
  "transform": [{"filter": "datum.p == 'f'"}],
  "facet": {"column": {"field": "g", "type": "nominal", "title": "group"}}, "spacing": 0, "bounds": "flush",
  "spec": {"width": 53, "height": 160,
   "layer": [
    {"transform": [{"filter": "datum.k == 'v'"}], "mark": {"type": "area", "orient": "horizontal", "interpolate": "monotone", "stroke": "black", "strokeWidth": 0.4},
     "encoding": {"y": {"field": "v", "type": "quantitative", "title": "mutations", "scale": {"domain": [-7.3, 110], "nice": false, "zero": false}, "axis": {"values": [0, 25, 50, 75, 100], "format": "d"}},
      "x": {"field": "d", "type": "quantitative", "stack": "center", "impute": null, "scale": {"domain": [-4.5, 48.5]}, "axis": {"labels": false, "ticks": false, "title": null}},
      "color": {"field": "g", "type": "nominal", "scale": {"domain": ["high_risk", "low_risk"], "range": ["#EE7600", "#008B00"]}, "legend": {"title": "group", "orient": "none", "legendX": 111, "legendY": 62}}}},
    {"transform": [{"filter": "datum.k == 'w'"}], "mark": {"type": "rule", "color": "black", "strokeWidth": 0.6},
     "encoding": {"y": {"field": "v", "type": "quantitative", "scale": {"domain": [-7.3, 110], "nice": false, "zero": false}, "axis": null}, "y2": {"field": "v2"}, "x": {"datum": 22, "scale": {"domain": [-4.5, 48.5]}, "axis": null}}},
    {"transform": [{"filter": "datum.k == 'o'"}], "mark": {"type": "circle", "size": 5, "color": "black", "opacity": 0.75},
     "encoding": {"y": {"field": "v", "type": "quantitative", "scale": {"domain": [-7.3, 110], "nice": false, "zero": false}, "axis": {"orient": "right", "labels": false, "ticks": false, "title": null, "minExtent": 0, "maxExtent": 0}},
      "x": {"datum": 22, "scale": {"domain": [-4.5, 48.5]}, "axis": {"orient": "top", "labels": false, "ticks": false, "title": null}}}},
    {"transform": [{"filter": "datum.k == 'b'"}], "mark": {"type": "bar", "width": 6, "fill": "white", "stroke": "black", "strokeWidth": 0.5},
     "encoding": {"y": {"field": "v", "type": "quantitative", "scale": {"domain": [-7.3, 110], "nice": false, "zero": false}, "axis": null}, "y2": {"field": "v2"}, "x": {"datum": 22, "scale": {"domain": [-4.5, 48.5]}, "axis": null}}},
    {"transform": [{"filter": "datum.k == 'm'"}], "mark": {"type": "tick", "orient": "horizontal", "size": 6, "thickness": 1, "color": "black"},
     "encoding": {"y": {"field": "v", "type": "quantitative", "scale": {"domain": [-7.3, 110], "nice": false, "zero": false}, "axis": null}, "x": {"datum": 22, "scale": {"domain": [-4.5, 48.5]}, "axis": null}}},
    {"transform": [{"filter": "datum.k == 'p'"}], "mark": {"type": "text", "fontSize": 5.5, "color": "#333"},
     "encoding": {"y": {"field": "v", "type": "quantitative", "scale": {"domain": [-7.3, 110], "nice": false, "zero": false}, "axis": null}, "x": {"datum": 48.5, "scale": {"domain": [-4.5, 48.5]}, "axis": null}, "text": {"field": "t"}}}
   ],
   "resolve": {"axis": {"x": "independent", "y": "independent"}}}}]},
{"title": {"text": "g", "anchor": "start", "fontSize": 17, "offset": -17},
 "vconcat": [{"title": {"text": "In_Frame_Del", "fontSize": 10.5, "offset": -2, "frame": "group", "anchor": "start", "align": "center", "dx": 57},
  "transform": [{"filter": "datum.p == 'g'"}],
  "facet": {"column": {"field": "g", "type": "nominal", "title": "group"}}, "spacing": 0, "bounds": "flush",
  "spec": {"width": 57, "height": 160,
   "layer": [
    {"transform": [{"filter": "datum.k == 'v'"}], "mark": {"type": "area", "orient": "horizontal", "interpolate": "monotone", "stroke": "black", "strokeWidth": 0.4},
     "encoding": {"y": {"field": "v", "type": "quantitative", "title": "mutations", "scale": {"domain": [-1.08, 8.06], "nice": false, "zero": false}, "axis": {"values": [0, 2, 4, 6, 8], "format": "d"}},
      "x": {"field": "d", "type": "quantitative", "stack": "center", "impute": null, "scale": {"domain": [-2.5, 54.5]}, "axis": {"labels": false, "ticks": false, "title": null}},
      "color": {"field": "g", "type": "nominal", "scale": {"domain": ["high_risk", "low_risk"], "range": ["#EE7600", "#008B00"]}, "legend": {"title": "group", "orient": "none", "legendX": 119, "legendY": 62}}}},
    {"transform": [{"filter": "datum.k == 'w'"}], "mark": {"type": "rule", "color": "black", "strokeWidth": 0.6},
     "encoding": {"y": {"field": "v", "type": "quantitative", "scale": {"domain": [-1.08, 8.06], "nice": false, "zero": false}, "axis": null}, "y2": {"field": "v2"}, "x": {"datum": 26, "scale": {"domain": [-2.5, 54.5]}, "axis": null}}},
    {"transform": [{"filter": "datum.k == 'o'"}], "mark": {"type": "circle", "size": 5, "color": "black", "opacity": 0.75},
     "encoding": {"y": {"field": "v", "type": "quantitative", "scale": {"domain": [-1.08, 8.06], "nice": false, "zero": false}, "axis": {"orient": "right", "labels": false, "ticks": false, "title": null, "minExtent": 0, "maxExtent": 0}},
      "x": {"datum": 26, "scale": {"domain": [-2.5, 54.5]}, "axis": {"orient": "top", "labels": false, "ticks": false, "title": null}}}},
    {"transform": [{"filter": "datum.k == 'b'"}], "mark": {"type": "bar", "width": 6, "fill": "white", "stroke": "black", "strokeWidth": 0.5},
     "encoding": {"y": {"field": "v", "type": "quantitative", "scale": {"domain": [-1.08, 8.06], "nice": false, "zero": false}, "axis": null}, "y2": {"field": "v2"}, "x": {"datum": 26, "scale": {"domain": [-2.5, 54.5]}, "axis": null}}},
    {"transform": [{"filter": "datum.k == 'm'"}], "mark": {"type": "tick", "orient": "horizontal", "size": 6, "thickness": 1, "color": "black"},
     "encoding": {"y": {"field": "v", "type": "quantitative", "scale": {"domain": [-1.08, 8.06], "nice": false, "zero": false}, "axis": null}, "x": {"datum": 26, "scale": {"domain": [-2.5, 54.5]}, "axis": null}}},
    {"transform": [{"filter": "datum.k == 'p'"}], "mark": {"type": "text", "fontSize": 5.5, "color": "#333"},
     "encoding": {"y": {"field": "v", "type": "quantitative", "scale": {"domain": [-1.08, 8.06], "nice": false, "zero": false}, "axis": null}, "x": {"datum": 54.5, "scale": {"domain": [-2.5, 54.5]}, "axis": null}, "text": {"field": "t"}}}
   ],
   "resolve": {"axis": {"x": "independent", "y": "independent"}}}}]},
{"title": {"text": "h", "anchor": "start", "fontSize": 17, "offset": -17},
 "vconcat": [{"title": {"text": "In_Frame_Ins", "fontSize": 10.5, "offset": -2, "frame": "group", "anchor": "start", "align": "center", "dx": 55},
  "transform": [{"filter": "datum.p == 'h'"}],
  "facet": {"column": {"field": "g", "type": "nominal", "title": "group"}}, "spacing": 0, "bounds": "flush",
  "spec": {"width": 55, "height": 160,
   "layer": [
    {"transform": [{"filter": "datum.k == 'v'"}], "mark": {"type": "area", "orient": "horizontal", "interpolate": "monotone", "stroke": "black", "strokeWidth": 0.4},
     "encoding": {"y": {"field": "v", "type": "quantitative", "title": "mutations", "scale": {"domain": [-5.9, 54.9], "nice": false, "zero": false}, "axis": {"values": [0, 20, 40], "format": "d"}},
      "x": {"field": "d", "type": "quantitative", "stack": "center", "impute": null, "scale": {"domain": [-3.5, 51.5]}, "axis": {"labels": false, "ticks": false, "title": null}},
      "color": {"field": "g", "type": "nominal", "scale": {"domain": ["high_risk", "low_risk"], "range": ["#EE7600", "#008B00"]}, "legend": {"title": "group", "orient": "none", "legendX": 115, "legendY": 62}}}},
    {"transform": [{"filter": "datum.k == 'w'"}], "mark": {"type": "rule", "color": "black", "strokeWidth": 0.6},
     "encoding": {"y": {"field": "v", "type": "quantitative", "scale": {"domain": [-5.9, 54.9], "nice": false, "zero": false}, "axis": null}, "y2": {"field": "v2"}, "x": {"datum": 24, "scale": {"domain": [-3.5, 51.5]}, "axis": null}}},
    {"transform": [{"filter": "datum.k == 'o'"}], "mark": {"type": "circle", "size": 5, "color": "black", "opacity": 0.75},
     "encoding": {"y": {"field": "v", "type": "quantitative", "scale": {"domain": [-5.9, 54.9], "nice": false, "zero": false}, "axis": {"orient": "right", "labels": false, "ticks": false, "title": null, "minExtent": 0, "maxExtent": 0}},
      "x": {"datum": 24, "scale": {"domain": [-3.5, 51.5]}, "axis": {"orient": "top", "labels": false, "ticks": false, "title": null}}}},
    {"transform": [{"filter": "datum.k == 'b'"}], "mark": {"type": "bar", "width": 6, "fill": "white", "stroke": "black", "strokeWidth": 0.5},
     "encoding": {"y": {"field": "v", "type": "quantitative", "scale": {"domain": [-5.9, 54.9], "nice": false, "zero": false}, "axis": null}, "y2": {"field": "v2"}, "x": {"datum": 24, "scale": {"domain": [-3.5, 51.5]}, "axis": null}}},
    {"transform": [{"filter": "datum.k == 'm'"}], "mark": {"type": "tick", "orient": "horizontal", "size": 6, "thickness": 1, "color": "black"},
     "encoding": {"y": {"field": "v", "type": "quantitative", "scale": {"domain": [-5.9, 54.9], "nice": false, "zero": false}, "axis": null}, "x": {"datum": 24, "scale": {"domain": [-3.5, 51.5]}, "axis": null}}},
    {"transform": [{"filter": "datum.k == 'p'"}], "mark": {"type": "text", "fontSize": 5.5, "color": "#333"},
     "encoding": {"y": {"field": "v", "type": "quantitative", "scale": {"domain": [-5.9, 54.9], "nice": false, "zero": false}, "axis": null}, "x": {"datum": 51.5, "scale": {"domain": [-3.5, 51.5]}, "axis": null}, "text": {"field": "t"}}}
   ],
   "resolve": {"axis": {"x": "independent", "y": "independent"}}}}]},
{"title": {"text": "i", "anchor": "start", "fontSize": 17, "offset": -17},
 "vconcat": [{"title": {"text": "SNP", "fontSize": 10.5, "offset": -2, "frame": "group", "anchor": "start", "align": "center", "dx": 50},
  "transform": [{"filter": "datum.p == 'i'"}],
  "facet": {"column": {"field": "g", "type": "nominal", "title": "group"}}, "spacing": 0, "bounds": "flush",
  "spec": {"width": 50, "height": 160,
   "layer": [
    {"transform": [{"filter": "datum.k == 'v'"}], "mark": {"type": "area", "orient": "horizontal", "interpolate": "monotone", "stroke": "black", "strokeWidth": 0.4},
     "encoding": {"y": {"field": "v", "type": "quantitative", "title": "mutations", "scale": {"domain": [-267, 1750], "nice": false, "zero": false}, "axis": {"values": [0, 500, 1000, 1500], "format": "d"}},
      "x": {"field": "d", "type": "quantitative", "stack": "center", "impute": null, "scale": {"domain": [-3, 47]}, "axis": {"labels": false, "ticks": false, "title": null}},
      "color": {"field": "g", "type": "nominal", "scale": {"domain": ["high_risk", "low_risk"], "range": ["#EE7600", "#008B00"]}, "legend": {"title": "group", "orient": "none", "legendX": 105, "legendY": 62}}}},
    {"transform": [{"filter": "datum.k == 'w'"}], "mark": {"type": "rule", "color": "black", "strokeWidth": 0.6},
     "encoding": {"y": {"field": "v", "type": "quantitative", "scale": {"domain": [-267, 1750], "nice": false, "zero": false}, "axis": null}, "y2": {"field": "v2"}, "x": {"datum": 22, "scale": {"domain": [-3, 47]}, "axis": null}}},
    {"transform": [{"filter": "datum.k == 'o'"}], "mark": {"type": "circle", "size": 5, "color": "black", "opacity": 0.75},
     "encoding": {"y": {"field": "v", "type": "quantitative", "scale": {"domain": [-267, 1750], "nice": false, "zero": false}, "axis": {"orient": "right", "labels": false, "ticks": false, "title": null, "minExtent": 0, "maxExtent": 0}},
      "x": {"datum": 22, "scale": {"domain": [-3, 47]}, "axis": {"orient": "top", "labels": false, "ticks": false, "title": null}}}},
    {"transform": [{"filter": "datum.k == 'b'"}], "mark": {"type": "bar", "width": 6, "fill": "white", "stroke": "black", "strokeWidth": 0.5},
     "encoding": {"y": {"field": "v", "type": "quantitative", "scale": {"domain": [-267, 1750], "nice": false, "zero": false}, "axis": null}, "y2": {"field": "v2"}, "x": {"datum": 22, "scale": {"domain": [-3, 47]}, "axis": null}}},
    {"transform": [{"filter": "datum.k == 'm'"}], "mark": {"type": "tick", "orient": "horizontal", "size": 6, "thickness": 1, "color": "black"},
     "encoding": {"y": {"field": "v", "type": "quantitative", "scale": {"domain": [-267, 1750], "nice": false, "zero": false}, "axis": null}, "x": {"datum": 22, "scale": {"domain": [-3, 47]}, "axis": null}}},
    {"transform": [{"filter": "datum.k == 'p'"}], "mark": {"type": "text", "fontSize": 5.5, "color": "#333"},
     "encoding": {"y": {"field": "v", "type": "quantitative", "scale": {"domain": [-267, 1750], "nice": false, "zero": false}, "axis": null}, "x": {"datum": 47, "scale": {"domain": [-3, 47]}, "axis": null}, "text": {"field": "t"}}}
   ],
   "resolve": {"axis": {"x": "independent", "y": "independent"}}}}]},
{"title": {"text": "j", "anchor": "start", "fontSize": 17, "offset": -17},
 "vconcat": [{"title": {"text": "DEL", "fontSize": 10.5, "offset": -2, "frame": "group", "anchor": "start", "align": "center", "dx": 54},
  "transform": [{"filter": "datum.p == 'j'"}],
  "facet": {"column": {"field": "g", "type": "nominal", "title": "group"}}, "spacing": 0, "bounds": "flush",
  "spec": {"width": 54, "height": 160,
   "layer": [
    {"transform": [{"filter": "datum.k == 'v'"}], "mark": {"type": "area", "orient": "horizontal", "interpolate": "monotone", "stroke": "black", "strokeWidth": 0.4},
     "encoding": {"y": {"field": "v", "type": "quantitative", "title": "mutations", "scale": {"domain": [-12.4, 121.2], "nice": false, "zero": false}, "axis": {"values": [0, 40, 80, 120], "format": "d"}},
      "x": {"field": "d", "type": "quantitative", "stack": "center", "impute": null, "scale": {"domain": [-3, 51]}, "axis": {"labels": false, "ticks": false, "title": null}},
      "color": {"field": "g", "type": "nominal", "scale": {"domain": ["high_risk", "low_risk"], "range": ["#EE7600", "#008B00"]}, "legend": {"title": "group", "orient": "none", "legendX": 113, "legendY": 62}}}},
    {"transform": [{"filter": "datum.k == 'w'"}], "mark": {"type": "rule", "color": "black", "strokeWidth": 0.6},
     "encoding": {"y": {"field": "v", "type": "quantitative", "scale": {"domain": [-12.4, 121.2], "nice": false, "zero": false}, "axis": null}, "y2": {"field": "v2"}, "x": {"datum": 24, "scale": {"domain": [-3, 51]}, "axis": null}}},
    {"transform": [{"filter": "datum.k == 'o'"}], "mark": {"type": "circle", "size": 5, "color": "black", "opacity": 0.75},
     "encoding": {"y": {"field": "v", "type": "quantitative", "scale": {"domain": [-12.4, 121.2], "nice": false, "zero": false}, "axis": {"orient": "right", "labels": false, "ticks": false, "title": null, "minExtent": 0, "maxExtent": 0}},
      "x": {"datum": 24, "scale": {"domain": [-3, 51]}, "axis": {"orient": "top", "labels": false, "ticks": false, "title": null}}}},
    {"transform": [{"filter": "datum.k == 'b'"}], "mark": {"type": "bar", "width": 6, "fill": "white", "stroke": "black", "strokeWidth": 0.5},
     "encoding": {"y": {"field": "v", "type": "quantitative", "scale": {"domain": [-12.4, 121.2], "nice": false, "zero": false}, "axis": null}, "y2": {"field": "v2"}, "x": {"datum": 24, "scale": {"domain": [-3, 51]}, "axis": null}}},
    {"transform": [{"filter": "datum.k == 'm'"}], "mark": {"type": "tick", "orient": "horizontal", "size": 6, "thickness": 1, "color": "black"},
     "encoding": {"y": {"field": "v", "type": "quantitative", "scale": {"domain": [-12.4, 121.2], "nice": false, "zero": false}, "axis": null}, "x": {"datum": 24, "scale": {"domain": [-3, 51]}, "axis": null}}},
    {"transform": [{"filter": "datum.k == 'p'"}], "mark": {"type": "text", "fontSize": 5.5, "color": "#333"},
     "encoding": {"y": {"field": "v", "type": "quantitative", "scale": {"domain": [-12.4, 121.2], "nice": false, "zero": false}, "axis": null}, "x": {"datum": 51, "scale": {"domain": [-3, 51]}, "axis": null}, "text": {"field": "t"}}}
   ],
   "resolve": {"axis": {"x": "independent", "y": "independent"}}}}]},
{"title": {"text": "k", "anchor": "start", "fontSize": 17, "offset": -17},
 "vconcat": [{"title": {"text": "INS", "fontSize": 10.5, "offset": -2, "frame": "group", "anchor": "start", "align": "center", "dx": 52},
  "transform": [{"filter": "datum.p == 'k'"}],
  "facet": {"column": {"field": "g", "type": "nominal", "title": "group"}}, "spacing": 0, "bounds": "flush",
  "spec": {"width": 52, "height": 160,
   "layer": [
    {"transform": [{"filter": "datum.k == 'v'"}], "mark": {"type": "area", "orient": "horizontal", "interpolate": "monotone", "stroke": "black", "strokeWidth": 0.4},
     "encoding": {"y": {"field": "v", "type": "quantitative", "title": "mutations", "scale": {"domain": [-11.6, 197.5], "nice": false, "zero": false}, "axis": {"values": [0, 50, 100, 150], "format": "d"}},
      "x": {"field": "d", "type": "quantitative", "stack": "center", "impute": null, "scale": {"domain": [0, 52]}, "axis": {"labels": false, "ticks": false, "title": null}},
      "color": {"field": "g", "type": "nominal", "scale": {"domain": ["high_risk", "low_risk"], "range": ["#EE7600", "#008B00"]}, "legend": {"title": "group", "orient": "none", "legendX": 109, "legendY": 62}}}},
    {"transform": [{"filter": "datum.k == 'w'"}], "mark": {"type": "rule", "color": "black", "strokeWidth": 0.6},
     "encoding": {"y": {"field": "v", "type": "quantitative", "scale": {"domain": [-11.6, 197.5], "nice": false, "zero": false}, "axis": null}, "y2": {"field": "v2"}, "x": {"datum": 26, "scale": {"domain": [0, 52]}, "axis": null}}},
    {"transform": [{"filter": "datum.k == 'o'"}], "mark": {"type": "circle", "size": 5, "color": "black", "opacity": 0.75},
     "encoding": {"y": {"field": "v", "type": "quantitative", "scale": {"domain": [-11.6, 197.5], "nice": false, "zero": false}, "axis": {"orient": "right", "labels": false, "ticks": false, "title": null, "minExtent": 0, "maxExtent": 0}},
      "x": {"datum": 26, "scale": {"domain": [0, 52]}, "axis": {"orient": "top", "labels": false, "ticks": false, "title": null}}}},
    {"transform": [{"filter": "datum.k == 'b'"}], "mark": {"type": "bar", "width": 6, "fill": "white", "stroke": "black", "strokeWidth": 0.5},
     "encoding": {"y": {"field": "v", "type": "quantitative", "scale": {"domain": [-11.6, 197.5], "nice": false, "zero": false}, "axis": null}, "y2": {"field": "v2"}, "x": {"datum": 26, "scale": {"domain": [0, 52]}, "axis": null}}},
    {"transform": [{"filter": "datum.k == 'm'"}], "mark": {"type": "tick", "orient": "horizontal", "size": 6, "thickness": 1, "color": "black"},
     "encoding": {"y": {"field": "v", "type": "quantitative", "scale": {"domain": [-11.6, 197.5], "nice": false, "zero": false}, "axis": null}, "x": {"datum": 26, "scale": {"domain": [0, 52]}, "axis": null}}},
    {"transform": [{"filter": "datum.k == 'p'"}], "mark": {"type": "text", "fontSize": 5.5, "color": "#333"},
     "encoding": {"y": {"field": "v", "type": "quantitative", "scale": {"domain": [-11.6, 197.5], "nice": false, "zero": false}, "axis": null}, "x": {"datum": 52, "scale": {"domain": [0, 52]}, "axis": null}, "text": {"field": "t"}}}
   ],
   "resolve": {"axis": {"x": "independent", "y": "independent"}}}}]},
{"title": {"text": "l", "anchor": "start", "fontSize": 17, "offset": -17},
 "vconcat": [{"title": {"text": "Predicted_NeoAgs", "fontSize": 10.5, "offset": -2, "frame": "group", "anchor": "start", "align": "center", "dx": 53},
  "transform": [{"filter": "datum.p == 'l'"}],
  "facet": {"column": {"field": "g", "type": "nominal", "title": "TCGA_risk_score"}}, "spacing": 0, "bounds": "flush",
  "spec": {"width": 53, "height": 160,
   "layer": [
    {"transform": [{"filter": "datum.k == 'v'"}], "mark": {"type": "area", "orient": "horizontal", "interpolate": "monotone", "stroke": "black", "strokeWidth": 0.4},
     "encoding": {"y": {"field": "v", "type": "quantitative", "title": "Predicted_NeoAgs", "scale": {"domain": [-44, 275], "nice": false, "zero": false}, "axis": {"values": [0, 100, 200], "format": "d"}},
      "x": {"field": "d", "type": "quantitative", "stack": "center", "impute": null, "scale": {"domain": [-2, 51]}, "axis": {"labels": false, "ticks": false, "title": null}},
      "color": {"field": "g", "type": "nominal", "scale": {"domain": ["high_risk", "low_risk"], "range": ["#EE7600", "#008B00"]}, "legend": {"title": "group", "orient": "none", "legendX": 111, "legendY": 62}}}},
    {"transform": [{"filter": "datum.k == 'w'"}], "mark": {"type": "rule", "color": "black", "strokeWidth": 0.6},
     "encoding": {"y": {"field": "v", "type": "quantitative", "scale": {"domain": [-44, 275], "nice": false, "zero": false}, "axis": null}, "y2": {"field": "v2"}, "x": {"datum": 24.5, "scale": {"domain": [-2, 51]}, "axis": null}}},
    {"transform": [{"filter": "datum.k == 'o'"}], "mark": {"type": "circle", "size": 5, "color": "black", "opacity": 0.75},
     "encoding": {"y": {"field": "v", "type": "quantitative", "scale": {"domain": [-44, 275], "nice": false, "zero": false}, "axis": {"orient": "right", "labels": false, "ticks": false, "title": null, "minExtent": 0, "maxExtent": 0}},
      "x": {"datum": 24.5, "scale": {"domain": [-2, 51]}, "axis": {"orient": "top", "labels": false, "ticks": false, "title": null}}}},
    {"transform": [{"filter": "datum.k == 'b'"}], "mark": {"type": "bar", "width": 6, "fill": "white", "stroke": "black", "strokeWidth": 0.5},
     "encoding": {"y": {"field": "v", "type": "quantitative", "scale": {"domain": [-44, 275], "nice": false, "zero": false}, "axis": null}, "y2": {"field": "v2"}, "x": {"datum": 24.5, "scale": {"domain": [-2, 51]}, "axis": null}}},
    {"transform": [{"filter": "datum.k == 'm'"}], "mark": {"type": "tick", "orient": "horizontal", "size": 6, "thickness": 1, "color": "black"},
     "encoding": {"y": {"field": "v", "type": "quantitative", "scale": {"domain": [-44, 275], "nice": false, "zero": false}, "axis": null}, "x": {"datum": 24.5, "scale": {"domain": [-2, 51]}, "axis": null}}},
    {"transform": [{"filter": "datum.k == 'p'"}], "mark": {"type": "text", "fontSize": 5.5, "color": "#333"},
     "encoding": {"y": {"field": "v", "type": "quantitative", "scale": {"domain": [-44, 275], "nice": false, "zero": false}, "axis": null}, "x": {"datum": 51, "scale": {"domain": [-2, 51]}, "axis": null}, "text": {"field": "t"}}}
   ],
   "resolve": {"axis": {"x": "independent", "y": "independent"}}}}]}
]
}
